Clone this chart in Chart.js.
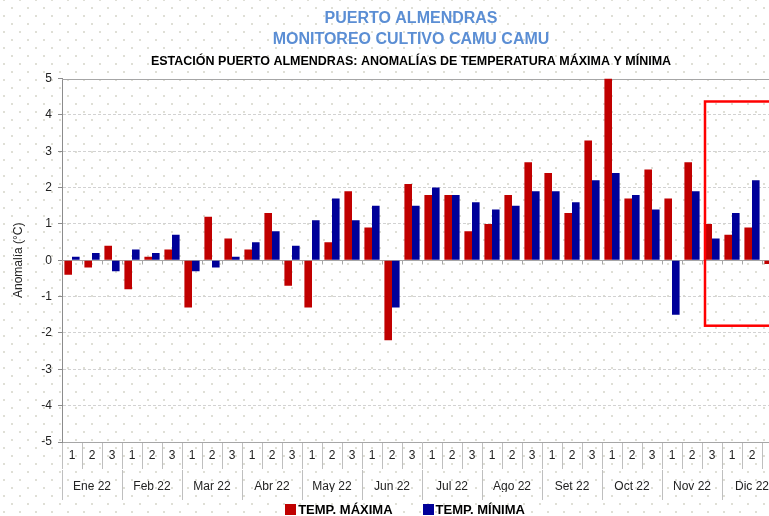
<!DOCTYPE html>
<html lang="es">
  <head>
    <meta charset="UTF-8" />
    <title>Puerto Almendras - Anomalías de temperatura</title>
    <script src="https://cdn.jsdelivr.net/npm/chart.js"></script>
    <style>
      html, body { margin: 0; padding: 0; width: 769px; height: 516px; overflow: hidden; }
      body {
        background-color: #fff;
        background-image:
          radial-gradient(circle, #dfdfd6 0.9px, transparent 1.3px),
          radial-gradient(circle, #dfdfd6 0.9px, transparent 1.3px);
        background-size: 16px 16px;
        background-position: -4px -8px, 4px 0px;
        font-family: "Liberation Sans", Arial, sans-serif;
      }
      #wrap { position: relative; width: 822px; height: 516px; }
      #leyenda {
        position: absolute; left: 0; top: 502px; width: 810px;
        display: flex; justify-content: center; gap: 30px;
        font-size: 13px; font-weight: bold; color: #000;
      }
      #leyenda span { display: flex; align-items: center; gap: 2px; }
      #leyenda i { display: inline-block; width: 11px; height: 11px; }
    </style>
  </head>
  <body>
    <div id="wrap">
      <canvas id="grafico"></canvas>
      <div id="leyenda"></div>
    </div>

    <script>
      // meses y décadas (eje x de dos niveles)
      const meses = ["Ene 22", "Feb 22", "Mar 22", "Abr 22", "May 22", "Jun 22",
                     "Jul 22", "Ago 22", "Set 22", "Oct 22", "Nov 22", "Dic 22"];
      const decadas = ["1", "2", "3"];

      // anomalías (°C) por década
      const tempMaxima = [-0.4, -0.2, 0.4, -0.8, 0.1, 0.3, -1.3, 1.2, 0.6, 0.3, 1.3, -0.7,
                          -1.3, 0.5, 1.9, 0.9, -2.2, 2.1, 1.8, 1.8, 0.8, 1.0, 1.8, 2.7,
                          2.4, 1.3, 3.3, 5.0, 1.7, 2.5, 1.7, 2.7, 1.0, 0.7, 0.9, -0.1];
      const tempMinima = [0.1, 0.2, -0.3, 0.3, 0.2, 0.7, -0.3, -0.2, 0.1, 0.5, 0.8, 0.4,
                          1.1, 1.7, 1.1, 1.5, -1.3, 1.5, 2.0, 1.8, 1.6, 1.4, 1.5, 1.9,
                          1.9, 1.6, 2.2, 2.4, 1.8, 1.4, -1.5, 1.9, 0.6, 1.3, 2.2, null];

      const ticksY = [-5, -4, -3, -2, -1, 0, 1, 2, 3, 4, 5];

      // recuadro rojo (en unidades de los ejes: índice de década / °C)
      const recuadro = { desde: 31.65, hasta: 36.5, arriba: 4.37, abajo: -1.8 };

      const etiquetas = meses.flatMap(() => decadas);
      const fuente = "'Liberation Sans', Arial, sans-serif";

      const lineasEje = {
        id: "lineasEje",
        beforeDatasetsDraw(chart) {
          const { ctx, chartArea, scales: { x, y } } = chart;
          const y0 = Math.round(y.getPixelForValue(0)) + 0.5;
          const yTop = Math.round(chartArea.top) + 0.5;
          ctx.save();
          ctx.strokeStyle = "#a6a6a6";
          ctx.lineWidth = 1;
          ctx.beginPath();
          ctx.moveTo(chartArea.left, y0);
          ctx.lineTo(chartArea.right, y0);
          ctx.moveTo(chartArea.left, yTop);
          ctx.lineTo(chartArea.right, yTop);
          for (let i = 0; i <= etiquetas.length; i++) {
            const px = Math.round(x.getPixelForValue(i - 0.5)) + 0.5;
            ctx.moveTo(px, y0);
            ctx.lineTo(px, y0 + 4);
          }
          ctx.stroke();
          ctx.restore();
        },
        afterDatasetsDraw(chart) {
          const { ctx, scales: { x, y } } = chart;
          const x1 = x.getPixelForValue(recuadro.desde);
          const x2 = x.getPixelForValue(recuadro.hasta);
          const y1 = y.getPixelForValue(recuadro.arriba);
          const y2 = y.getPixelForValue(recuadro.abajo);
          ctx.save();
          ctx.strokeStyle = "#ff0000";
          ctx.lineWidth = 2.5;
          ctx.strokeRect(x1, y1, x2 - x1, y2 - y1);
          ctx.restore();
        },
      };

      const ctx = document.getElementById("grafico").getContext("2d");
      const grafico = new Chart(ctx, {
        type: "bar",
        data: {
          labels: etiquetas,
          datasets: [
            {
              label: "TEMP. MÁXIMA",
              data: tempMaxima,
              backgroundColor: "#c00000",
              categoryPercentage: 0.76,
              barPercentage: 1,
            },
            {
              label: "TEMP. MÍNIMA",
              data: tempMinima,
              backgroundColor: "#000099",
              categoryPercentage: 0.76,
              barPercentage: 1,
            },
          ],
        },
        options: {
          responsive: true,
          maintainAspectRatio: false,
          animation: false,
          layout: { padding: { top: 8, left: 0, right: 0, bottom: 24 } },
          plugins: {
            title: {
              display: true,
              text: ["PUERTO ALMENDRAS", "MONITOREO CULTIVO CAMU CAMU"],
              color: "#5b8ed4",
              font: { family: fuente, size: 16, weight: "bold", lineHeight: 1.3 },
              padding: { top: 0, bottom: 0 },
            },
            subtitle: {
              display: true,
              text: "ESTACIÓN PUERTO ALMENDRAS: ANOMALÍAS DE TEMPERATURA MÁXIMA Y MÍNIMA",
              color: "#000",
              font: { family: fuente, size: 12.5, weight: "bold", lineHeight: 1.2 },
              padding: { top: 4, bottom: 10 },
            },
            legend: { display: false },
            tooltip: { enabled: false },
          },
          scales: {
            x: {
              type: "category",
              position: "bottom",
              offset: true,
              grid: { offset: true, drawOnChartArea: false, tickLength: 27, color: "#bfbfbf" },
              border: { display: true, color: "#a6a6a6" },
              ticks: { padding: -21, maxRotation: 0, autoSkip: false, color: "#222", font: { family: fuente, size: 12 } },
              afterFit: (s) => { s.height = 28; },
            },
            x2: {
              type: "category",
              labels: meses,
              position: "bottom",
              offset: true,
              grid: { offset: true, drawOnChartArea: false, tickLength: 30, color: "#bfbfbf" },
              border: { display: false },
              ticks: { padding: -21, maxRotation: 0, autoSkip: false, color: "#222", font: { family: fuente, size: 12 } },
              afterFit: (s) => { s.height = 22; },
            },
            y: {
              min: -5,
              max: 5,
              afterBuildTicks: (s) => { s.ticks = ticksY.map((v) => ({ value: v })); },
              ticks: { padding: 6, color: "#222", font: { family: fuente, size: 12 } },
              grid: {
                color: (c) => (c.tick && (c.tick.value === 0 || c.tick.value === 5 || c.tick.value === -5) ? "rgba(0,0,0,0)" : "#d2d2d2"),
                tickColor: "#8c8c8c",
                tickLength: 4,
              },
              border: { color: "#8c8c8c", dash: [3, 2] },
              title: {
                display: true,
                text: "Anomalía (°C)",
                color: "#222",
                font: { family: fuente, size: 12 },
                padding: { top: 11, bottom: 0 },
              },
              afterFit: (s) => { s.width = 62; },
            },
            margen: {
              type: "linear",
              position: "right",
              grid: { display: false },
              ticks: { display: false },
              border: { display: false },
              afterFit: (s) => { s.width = 40; },
            },
          },
        },
        plugins: [lineasEje],
      });

      // leyenda en HTML, tomada de los datasets
      document.getElementById("leyenda").innerHTML = grafico.data.datasets
        .map((d) => `<span><i style="background:${d.backgroundColor}"></i>${d.label}</span>`)
        .join("");
    </script>
  </body>
</html>
